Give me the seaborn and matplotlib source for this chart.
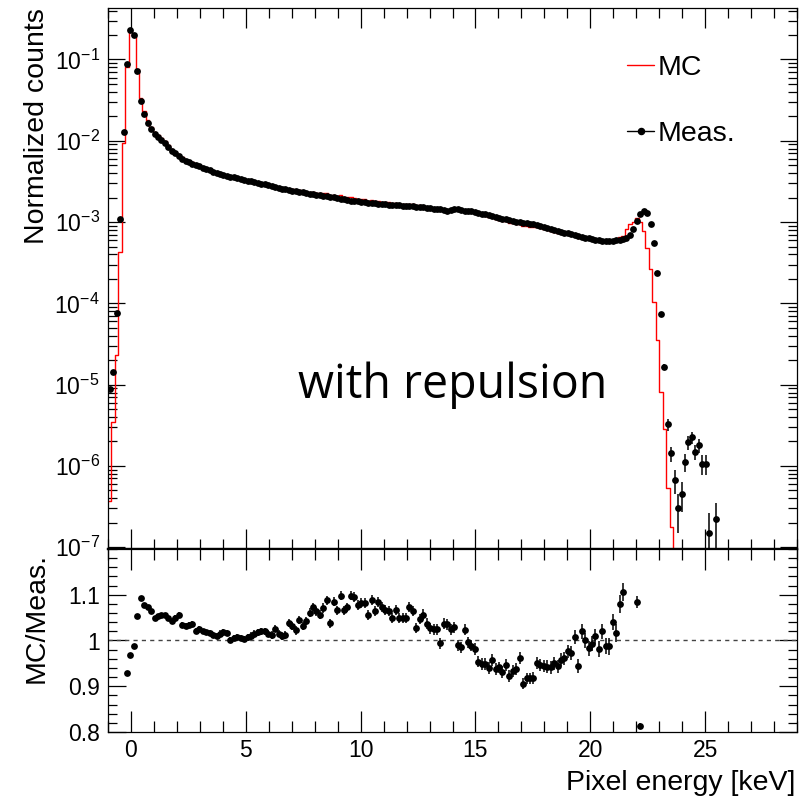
import numpy as np
import pandas as pd
import matplotlib
matplotlib.use("Agg")
import matplotlib.pyplot as plt
import seaborn as sns
from matplotlib.lines import Line2D
from matplotlib.ticker import (MultipleLocator, LogLocator, NullFormatter,
                               FixedLocator)

# ---------------- data ----------------
energy_min_kev = -1.0
energy_max_kev = 29.0
n_bins = 200

# measured normalized counts, log10, bins 0..176
meas_log10 = [
    -5.05, -4.85, -4.116, -2.96, -1.894, -1.061, -0.640, -0.701, -1.144, -1.513,
    -1.668, -1.779, -1.852, -1.914,
    -1.95, -1.99, -2.03, -2.075, -2.12, -2.155,
    -2.185, -2.22, -2.245, -2.262, -2.28, -2.296, -2.315, -2.33, -2.35, -2.365,
    -2.382, -2.398, -2.414, -2.425, -2.433, -2.441, -2.448, -2.46, -2.472, -2.483,
    -2.492, -2.50, -2.51, -2.52, -2.528, -2.537, -2.546, -2.556, -2.568, -2.58,
    -2.59, -2.598, -2.605, -2.612, -2.62, -2.628, -2.635, -2.642, -2.65, -2.657,
    -2.664, -2.67, -2.677, -2.683, -2.69, -2.697, -2.704, -2.712, -2.72, -2.728,
    -2.735, -2.74, -2.745, -2.75, -2.755, -2.76, -2.765, -2.77, -2.774, -2.778,
    -2.782, -2.786, -2.79, -2.793, -2.796, -2.798, -2.80, -2.804, -2.808, -2.813,
    -2.816, -2.82, -2.825, -2.83, -2.835, -2.84, -2.845, -2.855, -2.862, -2.85,
    -2.838, -2.842, -2.852, -2.858, -2.864, -2.87, -2.878, -2.886, -2.895, -2.904,
    -2.913, -2.923, -2.935, -2.946, -2.958, -2.968, -2.978, -2.988, -2.996, -3.003,
    -3.01, -3.016, -3.022, -3.03, -3.04, -3.05, -3.06, -3.072, -3.085, -3.098,
    -3.11, -3.12, -3.13, -3.14, -3.152, -3.162, -3.172, -3.182, -3.192, -3.2,
    -3.208, -3.216, -3.224, -3.23, -3.235, -3.236, -3.232, -3.226, -3.22, -3.21,
    -3.2, -3.165, -3.08, -2.99, -2.907, -2.866, -2.894, -3.03, -3.255, -3.629,
    -4.128, -4.78, -5.49, -5.846, -6.175, -6.52, -6.342, -5.948, -5.707, -5.646,
    -5.83, -5.748, -5.973, -5.973, -6.826, np.nan, -6.65,
]

# MC / Meas ratio, bins 5..154
ratio_first_bin = 5
ratio = [
    0.930, 0.969, 0.987, 1.054, 1.093, 1.078, 1.073, 1.064, 1.049, 1.054,
    1.055, 1.056, 1.049, 1.043, 1.049, 1.056, 1.034, 1.032, 1.034, 1.037,
    1.021, 1.026, 1.020, 1.018, 1.016, 1.012, 1.010, 1.015, 1.018, 1.016,
    1.001, 1.005, 1.007, 1.005, 1.003, 1.007, 1.010, 1.015, 1.018, 1.020,
    1.020, 1.015, 1.012, 1.026, 1.015, 1.010, 1.012, 1.038, 1.032, 1.022,
    1.044, 1.032, 1.042, 1.061, 1.073, 1.064, 1.056, 1.071, 1.088, 1.038,
    1.085, 1.066, 1.098, 1.066, 1.073, 1.098, 1.095, 1.078, 1.082, 1.082,
    1.056, 1.089, 1.064, 1.084, 1.073, 1.066, 1.064, 1.049, 1.066, 1.049,
    1.049, 1.049, 1.073, 1.064, 1.027, 1.047, 1.056, 1.037, 1.027, 1.025,
    1.025, 0.994, 1.037, 1.035, 1.025, 1.029, 0.990, 0.985, 1.023, 0.996,
    0.988, 0.981, 0.954, 0.949, 0.949, 0.939, 0.958, 0.937, 0.941, 0.932,
    0.947, 0.922, 0.934, 0.937, 0.961, 0.906, 0.917, 0.917, 0.919, 0.950,
    0.947, 0.944, 0.943, 0.941, 0.950, 0.944, 0.958, 0.961, 0.976, 0.972,
    1.007, 0.944, 1.020, 1.000, 0.983, 0.993, 1.009, 0.982, 1.020, 0.988,
    0.987, 1.040, 1.016, 1.080, 1.106, 1.285, 1.387, 1.220, 1.084, 0.813,
]
ratio_err = [
    0.004, 0.003, 0.003, 0.003, 0.004, 0.004, 0.004, 0.005, 0.005, 0.005,
    0.005, 0.005, 0.005, 0.005, 0.006, 0.006, 0.006, 0.006, 0.006, 0.006,
    0.006, 0.006, 0.006, 0.006, 0.007, 0.007, 0.007, 0.007, 0.007, 0.007,
    0.007, 0.007, 0.007, 0.007, 0.007, 0.008, 0.008, 0.008, 0.008, 0.008,
    0.008, 0.008, 0.008, 0.008, 0.008, 0.009, 0.009, 0.009, 0.009, 0.009,
    0.009, 0.009, 0.009, 0.009, 0.009, 0.010, 0.010, 0.010, 0.010, 0.010,
    0.010, 0.010, 0.010, 0.010, 0.010, 0.010, 0.010, 0.011, 0.011, 0.011,
    0.011, 0.011, 0.011, 0.011, 0.011, 0.011, 0.011, 0.011, 0.011, 0.011,
    0.011, 0.011, 0.011, 0.011, 0.011, 0.012, 0.012, 0.012, 0.012, 0.012,
    0.012, 0.012, 0.012, 0.012, 0.012, 0.012, 0.012, 0.012, 0.012, 0.012,
    0.012, 0.013, 0.013, 0.013, 0.013, 0.013, 0.013, 0.013, 0.013, 0.013,
    0.013, 0.013, 0.013, 0.013, 0.013, 0.013, 0.013, 0.013, 0.013, 0.013,
    0.013, 0.013, 0.014, 0.014, 0.014, 0.014, 0.014, 0.014, 0.015, 0.015,
    0.015, 0.015, 0.016, 0.016, 0.016, 0.016, 0.017, 0.017, 0.017, 0.017,
    0.018, 0.018, 0.019, 0.020, 0.020, 0.020, 0.020, 0.020, 0.013, 0.006,
]

# MC, log10, outside the ratio range
mc_log10_low = [-6.433, -5.465, -4.637, -3.370, -2.033]          # bins 0..4
mc_high_first_bin = 155
mc_log10_high = [-3.112, -3.317, -3.583, -3.985, -4.453,
                 -5.088, -5.542, -6.268, -6.752]                   # bins 155..163

# relative errors of the measured tail, bins 159..176
tail_first_bin = 159
tail_rel_err = [0.02, 0.04, 0.08, 0.16, 0.21, 0.33, 0.50, 0.40, 0.25,
                0.20, 0.17, 0.21, 0.19, 0.27, 0.27, 0.75, np.nan, 0.58]

x_ticks = [0, 5, 10, 15, 20, 25]
ratio_ticks = [0.8, 0.9, 1.0, 1.1]
ratio_tick_labels = ["0.8", "0.9", "1", "1.1"]

# ---------------- derived arrays ----------------
edges = np.linspace(energy_min_kev, energy_max_kev, n_bins + 1)
centers = 0.5 * (edges[:-1] + edges[1:])
meas = 10.0 ** np.array(meas_log10)
n_meas = len(meas)
ratio_a = np.array(ratio)
ratio_err_a = np.array(ratio_err)
r_idx = np.arange(ratio_first_bin, ratio_first_bin + len(ratio_a))

mc = np.zeros(n_bins)
mc[:len(mc_log10_low)] = 10.0 ** np.array(mc_log10_low)
mc[r_idx] = meas[r_idx] * ratio_a
h_idx = np.arange(mc_high_first_bin, mc_high_first_bin + len(mc_log10_high))
mc[h_idx] = 10.0 ** np.array(mc_log10_high)
mc_plot = np.where(mc > 0, mc, 1e-30)

meas_err = np.zeros(n_meas)
t_idx = np.arange(tail_first_bin, tail_first_bin + len(tail_rel_err))
meas_err[t_idx] = meas[t_idx] * np.array(tail_rel_err)

df_mc = pd.DataFrame({"energy": centers, "mc": mc_plot})
df_meas = pd.DataFrame({"energy": centers[:n_meas], "meas": meas,
                        "err": meas_err}).dropna()
df_ratio = pd.DataFrame({"energy": centers[r_idx], "ratio": ratio_a,
                         "err": ratio_err_a})

# ---------------- style ----------------
sns.set_style("ticks")
plt.rcParams["font.family"] = ["Liberation Sans", "DejaVu Sans"]
plt.rcParams["mathtext.fontset"] = "custom"
plt.rcParams["mathtext.rm"] = "Liberation Sans"
plt.rcParams["mathtext.it"] = "Liberation Sans:italic"
plt.rcParams["mathtext.bf"] = "Liberation Sans:bold"
plt.rcParams["axes.unicode_minus"] = True
plt.rcParams["text.color"] = "black"
plt.rcParams["axes.labelcolor"] = "black"
plt.rcParams["xtick.color"] = "black"
plt.rcParams["ytick.color"] = "black"
plt.rcParams["xtick.labelcolor"] = "black"
plt.rcParams["ytick.labelcolor"] = "black"

W, H = 805, 799
fig = plt.figure(figsize=(W / 100, H / 100), dpi=100)
fig.patch.set_facecolor("white")

L, R = 108, 797
T_top, B_top, B_bot = 8, 549, 732
ax_top = fig.add_axes([L / W, 1 - B_top / H, (R - L) / W, (B_top - T_top) / H])
ax_bot = fig.add_axes([L / W, 1 - B_bot / H, (R - L) / W, (B_bot - B_top) / H])

# ---------------- top panel ----------------
sns.histplot(data=df_mc, x="energy", weights="mc", bins=n_bins,
             binrange=(energy_min_kev, energy_max_kev), element="step",
             fill=False, color="#ff0000", linewidth=1.0, ax=ax_top, zorder=2)
ax_top.errorbar(df_meas["energy"], df_meas["meas"], yerr=df_meas["err"],
                fmt="none", ecolor="black", elinewidth=1.1, capsize=0, zorder=3)
sns.scatterplot(data=df_meas, x="energy", y="meas", color="black", s=24,
                linewidth=0, ax=ax_top, zorder=4)
ax_top.set_yscale("log")
ax_top.set_xlim(energy_min_kev, energy_max_kev)
ax_top.set_ylim(0.95e-7, 0.43)
ax_top.set_xlabel("")
ax_top.set_ylabel("")

ax_top.xaxis.set_major_locator(FixedLocator(x_ticks))
ax_top.xaxis.set_minor_locator(MultipleLocator(1))
ax_top.yaxis.set_major_locator(LogLocator(base=10, numticks=20))
ax_top.yaxis.set_minor_locator(LogLocator(base=10, subs=np.arange(2, 10), numticks=20))
ax_top.yaxis.set_minor_formatter(NullFormatter())
ax_top.tick_params(axis="x", which="both", direction="in", top=True, bottom=True,
                   labelbottom=False, width=0.9, color="black")
ax_top.tick_params(axis="x", which="major", length=14.4)
ax_top.tick_params(axis="x", which="minor", length=7.5)
ax_top.tick_params(axis="y", which="both", direction="in", left=True, right=True,
                   width=0.9, color="black", labelcolor="black",
                   labelsize=16.5, pad=6)
ax_top.tick_params(axis="y", which="major", length=12.2)
ax_top.tick_params(axis="y", which="minor", length=6.5)

legend_handles = [
    Line2D([], [], color="#ff0000", lw=1.0),
    Line2D([], [], color="black", lw=1.0, marker="o", markersize=4.4),
]
leg = ax_top.legend(legend_handles, ["MC", "Meas."], frameon=False, fontsize=20.5,
                    handlelength=0.95, handletextpad=0.12, labelspacing=1.42,
                    loc="upper left", bbox_to_anchor=(627 / W, 1 - 55 / H),
                    bbox_transform=fig.transFigure, borderpad=0, borderaxespad=0)
for t in leg.get_texts():
    t.set_color("black")

# ---------------- ratio panel ----------------
ax_bot.axhline(1.0, color="#444444", lw=1.0, ls=(0, (3, 3)), zorder=1)
ax_bot.errorbar(df_ratio["energy"], df_ratio["ratio"], yerr=df_ratio["err"],
                fmt="none", ecolor="black", elinewidth=1.1, capsize=0, zorder=3)
sns.scatterplot(data=df_ratio, x="energy", y="ratio", color="black", s=24,
                linewidth=0, ax=ax_bot, zorder=4)
ax_bot.set_xlim(energy_min_kev, energy_max_kev)
ax_bot.set_ylim(0.8, 1.2)
ax_bot.set_xlabel("")
ax_bot.set_ylabel("")
ax_bot.xaxis.set_major_locator(FixedLocator(x_ticks))
ax_bot.xaxis.set_minor_locator(MultipleLocator(1))
ax_bot.yaxis.set_major_locator(FixedLocator(ratio_ticks))
ax_bot.set_yticklabels(ratio_tick_labels)
ax_bot.yaxis.set_minor_locator(MultipleLocator(0.02))
ax_bot.tick_params(axis="x", which="both", direction="in", top=True, bottom=True,
                   width=0.9, color="black", labelcolor="black",
                   labelsize=16.5, pad=5)
ax_bot.tick_params(axis="x", which="major", length=14.9)
ax_bot.tick_params(axis="x", which="minor", length=7.9)
ax_bot.tick_params(axis="y", which="both", direction="in", left=True, right=True,
                   width=0.9, color="black", labelcolor="black",
                   labelsize=16.5, pad=6)
ax_bot.tick_params(axis="y", which="major", length=12.7)
ax_bot.tick_params(axis="y", which="minor", length=6.5)

for ax in (ax_top, ax_bot):
    for sp in ax.spines.values():
        sp.set_color("black")
        sp.set_linewidth(0.9)
        sp.set_visible(True)
ax_top.spines["bottom"].set_linewidth(1.6)
ax_bot.spines["top"].set_linewidth(1.6)

# ---------------- texts ----------------
fig.text(37 / W, 1 - 8 / H, "Normalized counts", rotation=90, ha="center",
         va="top", fontsize=20.5, color="black")
fig.text(37 / W, 1 - 553 / H, "MC/Meas.", rotation=90, ha="center",
         va="top", fontsize=20.5, color="black")
fig.text(795 / W, 1 - 783 / H, "Pixel energy [keV]", ha="right",
         va="center", fontsize=20.5, color="black")
fig.text(298 / W, 1 - 398 / H, "with repulsion", ha="left", va="baseline",
         fontsize=33.5, color="black", family=["Open Sans", "DejaVu Sans"])

fig.savefig("out.png", dpi=100, facecolor="white")
